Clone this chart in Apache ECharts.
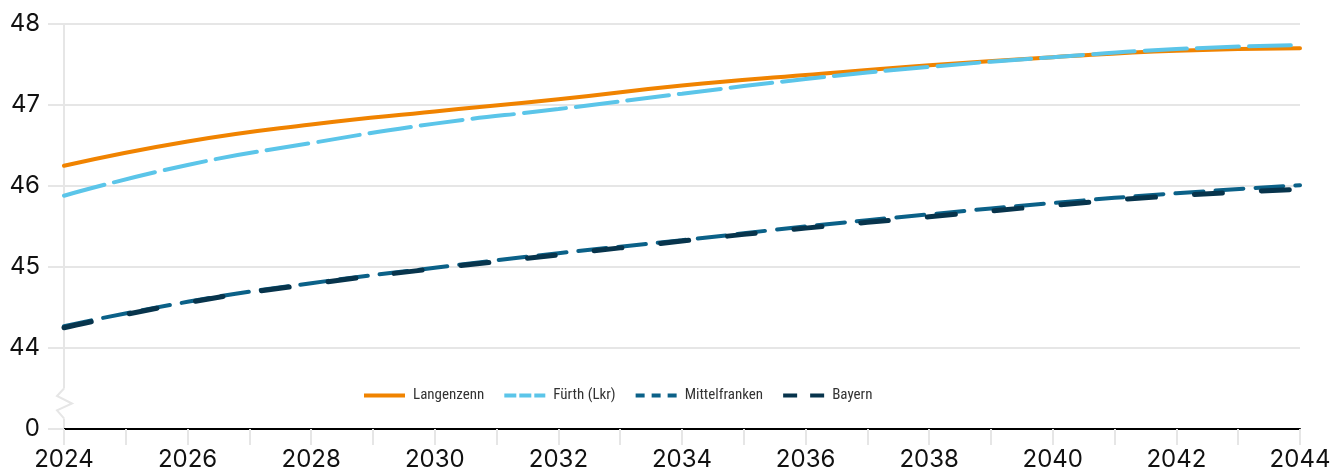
<!DOCTYPE html>
<html>
<head>
<meta charset="utf-8">
<script src="https://cdn.jsdelivr.net/npm/echarts@6/dist/echarts.min.js"></script>
<style>
html,body{margin:0;padding:0;background:#fff;}
#chart{width:1335px;height:476px;}
</style>
</head>
<body>
<div id="chart"></div>
<script>
const years = [2024, 2026, 2028, 2030, 2032, 2034, 2036, 2038, 2040, 2042, 2044];
const langenzenn = [46.25, 46.55, 46.76, 46.92, 47.07, 47.24, 47.37, 47.49, 47.59, 47.67, 47.70];
const fuerth = [45.88, 46.26, 46.53, 46.77, 46.95, 47.14, 47.32, 47.47, 47.59, 47.69, 47.74];
const mittelfranken = [44.27, 44.57, 44.80, 44.99, 45.17, 45.33, 45.50, 45.65, 45.79, 45.91, 46.01];
const bayern = [44.25, 44.56, 44.79, 44.98, 45.15, 45.32, 45.48, 45.62, 45.76, 45.88, 45.96];
const seriesNames = ['Langenzenn', 'Fürth (Lkr)', 'Mittelfranken', 'Bayern'];
const yTicks = [43, 44, 45, 46, 47, 48];
const yTickLabels = ['0', '44', '45', '46', '47', '48'];

const pairs = arr => years.map((y, i) => [y, arr[i]]);
const gridColor = '#e6e6e6';
const FONT = 'Inter, "Liberation Sans", Arial, sans-serif';

const chart = echarts.init(document.getElementById('chart'), null, {renderer: 'canvas'});

function mkSeries(name, data, color, width, dash) {
  return {
    name: name, type: 'line', data: pairs(data), smooth: 0.5,
    symbol: 'none', silent: true,
    lineStyle: {color: color, width: width, type: dash, cap: 'round'},
    itemStyle: {color: color}
  };
}

chart.setOption({
  animation: false,
  textStyle: {fontFamily: FONT},
  grid: {left: 64, right: 35, top: 24, bottom: 47, containLabel: false},
  xAxis: {
    type: 'value', min: 2024, max: 2044, interval: 1,
    axisLine: {show: true, lineStyle: {color: '#000', width: 2}},
    axisTick: {show: true, length: 16, lineStyle: {color: gridColor, width: 2}},
    splitLine: {show: false},
    axisLabel: {
      margin: 19, fontSize: 24, color: '#111', fontFamily: FONT,
      formatter: v => (v % 2 === 0 ? String(v) : '')
    }
  },
  yAxis: {
    type: 'value', min: 43, max: 48, interval: 1,
    axisLine: {show: true, lineStyle: {color: gridColor, width: 2}},
    axisTick: {show: true, length: 16, lineStyle: {color: gridColor, width: 2}},
    splitLine: {show: true, lineStyle: {color: gridColor, width: 2}},
    axisLabel: {
      margin: 24, fontSize: 24, color: '#111', fontFamily: FONT,
      formatter: v => { const i = yTicks.indexOf(v); return i >= 0 ? yTickLabels[i] : ''; }
    }
  },
  legend: {
    left: 362, top: 388, padding: 0, itemWidth: 41, itemHeight: 14, itemGap: 18,
    itemStyle: {opacity: 0},
    lineStyle: {width: 4, cap: 'butt'},
    textStyle: {fontSize: 15, color: '#333', fontFamily: '"Liberation Sans Narrow", "Roboto Condensed", "Liberation Sans", sans-serif', padding: [0, 0, 0, 3]},
    data: [
      {name: seriesNames[0], lineStyle: {type: 'solid', width: 4}},
      {name: seriesNames[1], lineStyle: {type: [12, 3], width: 4}},
      {name: seriesNames[2], lineStyle: {type: [9, 7], width: 4}},
      {name: seriesNames[3], lineStyle: {type: [14, 13], width: 4}}
    ]
  },
  series: [
    mkSeries(seriesNames[0], langenzenn, '#F08300', 4, 'solid'),
    mkSeries(seriesNames[1], fuerth, '#5BC5E9', 4, [42, 10]),
    mkSeries(seriesNames[2], mittelfranken, '#0B6188', 4, [28, 12]),
    mkSeries(seriesNames[3], bayern, '#07344C', 5, [28, 39])
  ]
});

// axis break zigzag on the y axis between 0 and 44
const x0 = chart.convertToPixel({xAxisIndex: 0}, 2024);
const yTop = chart.convertToPixel({yAxisIndex: 0}, 43.5);
const yBot = chart.convertToPixel({yAxisIndex: 0}, 43.13);
const h = yTop - yBot;
chart.setOption({
  graphic: [
    {type: 'rect', shape: {x: x0 - 3, y: yBot, width: 6, height: h}, style: {fill: '#fff'}, z: 100, silent: true},
    {type: 'polyline', z: 101, silent: true,
      shape: {points: [
        [x0, yBot], [x0 - 7, yBot + h * 0.27], [x0 + 8, yBot + h * 0.5], [x0 - 7, yBot + h * 0.75], [x0, yTop]
      ]},
      style: {stroke: gridColor, lineWidth: 2, fill: null}}
  ]
});
</script>
</body>
</html>
